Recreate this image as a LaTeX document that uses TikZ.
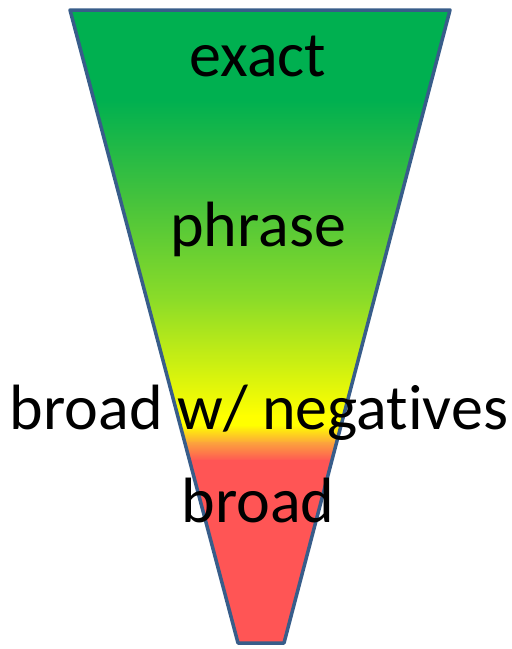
\documentclass[tikz,border=0pt]{standalone}
\usepackage{fontspec}
\setmainfont[Ligatures=NoCommon]{Carlito}
\definecolor{cgreen}{RGB}{0,176,80}
\definecolor{cg2}{RGB}{70,195,60}
\definecolor{cg3}{RGB}{140,220,40}
\definecolor{cyel}{RGB}{255,255,0}
\definecolor{corange}{RGB}{252,165,60}
\definecolor{cred}{RGB}{255,85,85}
\definecolor{cedge}{RGB}{56,93,138}
\tikzset{lbl/.style={anchor=base,inner sep=0pt,font=\fontsize{64}{70}\selectfont,text=black}}
\begin{document}
\begin{tikzpicture}[x=1pt,y=-1pt]
\useasboundingbox (0,0) rectangle (512,649);
\coordinate (tl) at (70,10);
\coordinate (tr) at (450,10);
\coordinate (br) at (284,643);
\coordinate (bl) at (238,643);
\begin{scope}
\clip (tl) -- (tr) -- (br) -- (bl) -- cycle;
\fill[cgreen] (0,0) rectangle (512,101);
\shade[top color=cgreen,bottom color=cg2] (0,100) rectangle (512,201);
\shade[top color=cg2,bottom color=cg3] (0,200) rectangle (512,301);
\shade[top color=cg3,bottom color=cyel] (0,300) rectangle (512,416);
\fill[cyel] (0,415) rectangle (512,426);
\shade[top color=cyel,bottom color=corange] (0,425) rectangle (512,443);
\shade[top color=corange,bottom color=cred] (0,442) rectangle (512,461);
\fill[cred] (0,460) rectangle (512,649);
\end{scope}
\draw[cedge,line width=3.5pt,line join=round] (tl) -- (tr) -- (br) -- (bl) -- cycle;
\node[lbl] (exact) at (258,76) {exact};
\node[lbl] (phrase) at (258,246) {phrase};
\node[lbl] (neg) at (259,429) {broad w/ negatives};
\node[lbl] (broad) at (258,522) {broad};
\end{tikzpicture}
\end{document}
